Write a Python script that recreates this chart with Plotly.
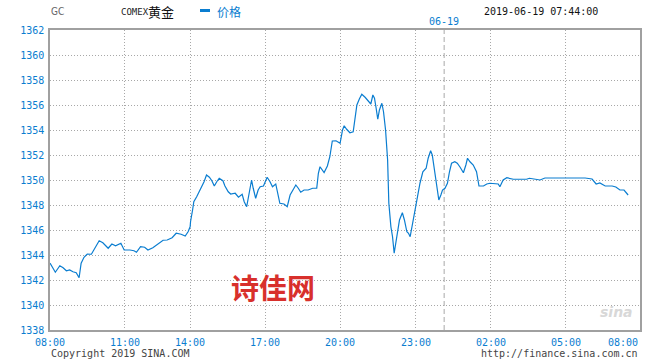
import plotly.graph_objects as go

# minutes after 08:00 (06-18) and price
minutes = [0, 13, 24, 32, 40, 48, 56, 64, 71, 76, 83, 91, 101, 109, 120, 129, 142, 151, 160, 173,
           181, 195, 205, 211, 221, 231, 239, 251, 264, 276, 286, 298, 308, 320, 330, 337, 342,
           343, 348, 351, 358, 364, 370, 376, 382, 389, 395, 401, 407, 413, 422, 427, 435, 441,
           452, 460, 469, 474, 480, 486, 492, 496, 502, 508, 513, 521, 530, 537, 543, 551, 557,
           561, 571, 579, 586, 592, 600, 606, 612, 620, 630, 641, 651, 655, 659, 669, 677, 683,
           689, 698, 708, 714, 718, 724, 732, 740, 744, 749, 755, 761, 769, 777, 783, 788, 792,
           796, 800, 804, 810, 814, 819, 824, 827, 832, 836, 840, 844, 848, 853, 860, 865, 871,
           875, 879, 885, 891, 896, 903, 910, 918, 923, 929, 933, 938, 944, 949, 954, 958, 964,
           970, 975, 980, 988, 994, 1001, 1009, 1015, 1019, 1025, 1033, 1041, 1047, 1058, 1066,
           1074, 1086, 1094, 1098, 1106, 1115, 1123, 1131, 1147, 1163, 1170, 1184, 1196, 1208,
           1233, 1257, 1281, 1306, 1323, 1333, 1342, 1355, 1372, 1381, 1391, 1401, 1411]
prices = [1343.35, 1342.62, 1343.14, 1342.98, 1342.74, 1342.80, 1342.66, 1342.58, 1342.18, 1343.34,
          1343.82, 1344.08, 1344.06, 1344.54, 1345.14, 1344.98, 1344.54, 1344.88, 1344.74, 1344.94,
          1344.40, 1344.40, 1344.34, 1344.22, 1344.66, 1344.62, 1344.40, 1344.58, 1344.88, 1345.18,
          1345.20, 1345.38, 1345.74, 1345.66, 1345.52, 1345.86, 1346.26,
          1346.66, 1347.60, 1348.26, 1348.66, 1349.06, 1349.46, 1349.86, 1350.40, 1350.22, 1349.94,
          1349.52, 1349.86, 1350.14, 1349.94, 1349.52, 1349.06, 1348.88, 1348.94, 1348.62, 1348.86,
          1348.26, 1347.86, 1348.94, 1350.00, 1349.34, 1348.54, 1349.20, 1349.46, 1349.52, 1350.22,
          1349.86, 1349.46, 1349.68, 1348.80, 1348.14, 1348.08, 1347.86, 1348.80, 1349.20, 1349.60,
          1349.34, 1349.02, 1349.20, 1349.20, 1349.34, 1349.34, 1350.54, 1351.06, 1350.60, 1351.12,
          1351.86,
          1353.12, 1353.14, 1352.94, 1354.00, 1354.34, 1354.06, 1353.78, 1353.86, 1354.66, 1356.00,
          1356.48, 1356.86, 1356.62, 1356.26, 1356.08, 1356.80, 1356.54, 1355.74, 1354.86, 1355.60,
          1356.14, 1355.46, 1354.00, 1351.60, 1348.14, 1346.26, 1345.46, 1344.14, 1344.94, 1346.00,
          1346.80, 1347.38, 1346.80, 1345.86, 1345.74, 1345.46, 1346.56, 1347.60, 1348.66, 1349.74,
          1350.66, 1350.94, 1351.74, 1352.34, 1352.00, 1350.94, 1349.60, 1348.40, 1348.80, 1349.20,
          1349.34, 1349.74, 1350.66, 1351.34, 1351.46, 1351.34, 1351.02, 1350.58, 1351.20, 1351.74,
          1351.46, 1351.20, 1350.66, 1349.52, 1349.52, 1349.68, 1349.74, 1349.68, 1349.68, 1349.46,
          1350.00, 1350.18, 1350.14, 1350.06, 1350.06, 1350.06, 1350.14, 1350.08, 1350.00, 1350.16,
          1350.16, 1350.12, 1350.12, 1350.16, 1350.08, 1349.68, 1349.76, 1349.52, 1349.52, 1349.44,
          1349.20, 1349.20, 1348.80]

tick_pos = [0, 183, 342, 525, 708, 893, 1076, 1259, 1440]
tick_labels = ["08:00", "11:00", "14:00", "17:00", "20:00", "23:00", "02:00", "05:00", "08:00"]
y_ticks = list(range(1338, 1363, 2))
day_break = 962
day_label = "06-19"

BLUE = "#0a7dd0"
MONO = "DejaVu Sans Mono"

fig = go.Figure()
fig.add_trace(go.Scatter(x=minutes, y=prices, mode="lines",
                         line=dict(color=BLUE, width=1.2), hoverinfo="skip", showlegend=False))

fig.update_layout(
    width=660, height=360,
    margin=dict(l=50, r=20, t=30, b=30),
    paper_bgcolor="white", plot_bgcolor="white",
    xaxis=dict(range=[0, 1440], tickvals=tick_pos, showticklabels=False,
               showgrid=True, gridcolor="#a8a8a8", griddash="1px,2px", gridwidth=1,
               showline=True, linecolor="#a0a0a0", linewidth=1.5, mirror=True,
               zeroline=False, ticks=""),
    yaxis=dict(range=[1338, 1362], tickvals=y_ticks, ticktext=[str(v) for v in y_ticks],
               showgrid=True, gridcolor="#a8a8a8", griddash="1px,2px", gridwidth=1,
               showline=True, linecolor="#a0a0a0", linewidth=1.5, mirror=True,
               zeroline=False, ticks="", ticklabelstandoff=2,
               tickfont=dict(family=MONO, size=10, color=BLUE)),
)

# day-break dashed line
fig.add_shape(type="line", xref="x", yref="paper", x0=day_break, x1=day_break, y0=0, y1=1,
              line=dict(color="#a8a8a8", width=1, dash="5px,3px"), layer="below")

for i, (p, t) in enumerate(zip(tick_pos, tick_labels)):
    anchor = "center" if i < len(tick_pos) - 1 else "right"
    fig.add_annotation(x=p, y=0, xref="x", yref="paper", text=t, showarrow=False,
                       xanchor=anchor, yanchor="top", yshift=-5,
                       font=dict(family=MONO, size=10, color=BLUE))

fig.add_annotation(x=day_break, y=1, xref="x", yref="paper", text=day_label, showarrow=False,
                   xanchor="center", yanchor="bottom", yshift=1,
                   font=dict(family=MONO, size=10, color=BLUE))


def add_px(x, y, text, size, color, family=MONO, xanchor="left", weight="normal"):
    fig.add_annotation(x=(x - 50) / 590, y=(330 - y) / 300, xref="paper", yref="paper",
                       text=text, showarrow=False, xanchor=xanchor, yanchor="middle",
                       font=dict(family=family, size=size, color=color, weight=weight))


add_px(49, 12, "GC", 10, "#666666", family="Liberation Sans Narrow, DejaVu Sans Condensed")
add_px(119, 12, "COMEX", 9, "#222222")
add_px(146, 12, "黄金", 13, "#111111", family="Noto Sans CJK SC")
fig.add_shape(type="line", xref="paper", yref="paper",
              x0=(200 - 50) / 590, x1=(210 - 50) / 590, y0=(330 - 10.5) / 300, y1=(330 - 10.5) / 300,
              line=dict(color=BLUE, width=3))
add_px(215, 12, "价格", 12, BLUE, family="Noto Sans CJK SC")
add_px(600, 12, "2019-06-19 07:44:00", 10, "#111111", xanchor="right")
add_px(49, 353, "Copyright 2019 SINA.COM", 10, "#444444")
add_px(640, 353, "http://finance.sina.com.cn", 10, "#444444", xanchor="right")
add_px(273, 287, "诗佳网", 28, "#d8302c", family="Noto Sans CJK SC", xanchor="center", weight="bold")
add_px(616, 312, "<i>sina</i>", 14, "#d8d8d8", family="DejaVu Sans", xanchor="center", weight="bold")

fig.write_html("out.html")
